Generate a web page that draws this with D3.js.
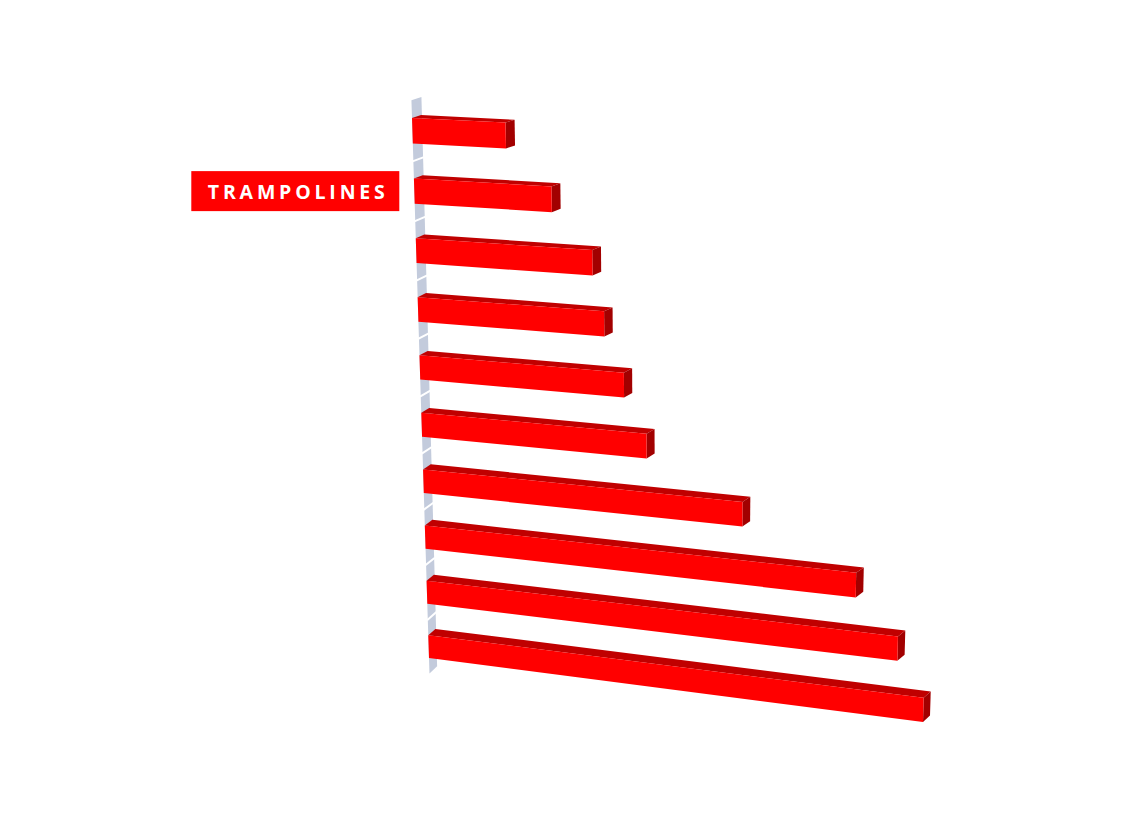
<!DOCTYPE html>
<html lang="en">
<head>
    <meta charset="UTF-8">
    <title>Trampolines</title>
</head>
<style>
    body { margin: 0; background: #ffffff; }
</style>
<script src="https://cdn.jsdelivr.net/npm/d3@7"></script>
<body>
    <div id="graphic"></div>
</body>

<script>
    // Data - one label shown, the rest of the category names are hidden in the original
    var categories = ["", "TRAMPOLINES", "", "", "", "", "", "", "", ""];
    var values = [18.9, 27.8, 35.7, 37.9, 41.7, 46.1, 64.9, 86.8, 94.9, 100];
    var highlighted = "TRAMPOLINES";

    var width = 1123;
    var height = 821;

    // scales in a flat "chart plane" (0..1), projected later
    var gapRatio = 0.58;
    var nBars = categories.length;
    var span = nBars - gapRatio;                 // first bar top -> last bar bottom in steps
    var outer = gapRatio / 2 / span;

    var xScale = d3.scaleLinear()
                    .domain([0, 100])
                    .range([0, 1]);

    var yScale = d3.scaleBand()
                    .domain(d3.range(nBars))
                    .range([-outer, 1 + outer])
                    .paddingInner(gapRatio)
                    .paddingOuter(gapRatio / 2);

    // square -> quad homography (Heckbert)
    function makeHomography(p00, p10, p11, p01) {
        var x0 = p00[0], y0 = p00[1], x1 = p10[0], y1 = p10[1];
        var x2 = p11[0], y2 = p11[1], x3 = p01[0], y3 = p01[1];
        var dx1 = x1 - x2, dx2 = x3 - x2, dx3 = x0 - x1 + x2 - x3;
        var dy1 = y1 - y2, dy2 = y3 - y2, dy3 = y0 - y1 + y2 - y3;
        var den = dx1 * dy2 - dx2 * dy1;
        var g = (dx3 * dy2 - dx2 * dy3) / den;
        var h = (dx1 * dy3 - dx3 * dy1) / den;
        var a = x1 - x0 + g * x1, b = x3 - x0 + h * x3, c = x0;
        var d = y1 - y0 + g * y1, e = y3 - y0 + h * y3, f = y0;
        return function(s, t) {
            var w = g * s + h * t + 1;
            return [(a * s + b * t + c) / w, (d * s + e * t + f) / w];
        };
    }

    // front plane (z = 0) and back plane (z = 1) of the 3D box
    var front = makeHomography([412, 118], [938, 144], [923, 722], [429, 658]);
    var back = makeHomography([421, 115], [947.5, 141.5], [930, 715.5], [436, 651.5]);

    function project(s, t, z) {
        var a = front(s, t), b = back(s, t);
        return [a[0] + (b[0] - a[0]) * z, a[1] + (b[1] - a[1]) * z];
    }

    function poly(pts) {
        return pts.map(function(p) { return project(p[0], p[1], p[2]).join(','); }).join(' ');
    }

    var svg = d3.select('#graphic')
                .append('svg')
                .attr('width', width)
                .attr('height', height);

    // axis wall strip
    var r = yScale.range();
    svg.append('polygon')
        .attr('points', poly([[0, r[0], 0], [0, r[0], 1.1], [0, r[1], 1.1], [0, r[1], 0]]))
        .attr('fill', '#c3cbdc');

    // white separators between categories on the strip
    svg.selectAll('.sep')
        .data(d3.range(1, nBars))
        .join('line')
        .attr('class', 'sep')
        .each(function(i) {
            var t = yScale(i) - yScale.step() * gapRatio / 2;
            var p0 = project(0, t, -0.1), p1 = project(0, t, 1.2);
            d3.select(this)
                .attr('x1', p0[0]).attr('y1', p0[1])
                .attr('x2', p1[0]).attr('y2', p1[1]);
        })
        .attr('stroke', '#ffffff')
        .attr('stroke-width', 2);

    // bars
    var bars = svg.selectAll('.bar')
                    .data(values)
                    .join('g')
                    .attr('class', 'bar');

    bars.each(function(v, i) {
        var g = d3.select(this);
        var s1 = xScale(v);
        var t0 = yScale(i);
        var t1 = t0 + yScale.bandwidth();

        // top face
        g.append('polygon')
            .attr('points', poly([[0, t0, 0], [s1, t0, 0], [s1, t0, 1], [0, t0, 1]]))
            .attr('fill', '#c00000');
        // end face
        g.append('polygon')
            .attr('points', poly([[s1, t0, 0], [s1, t0, 1], [s1, t1, 1], [s1, t1, 0]]))
            .attr('fill', '#a20000');
        // front face
        g.append('polygon')
            .attr('points', poly([[0, t0, 0], [s1, t0, 0], [s1, t1, 0], [0, t1, 0]]))
            .attr('fill', '#ff0000');
    });

    // highlighted category label
    var idx = categories.indexOf(highlighted);
    var mid = project(0, yScale(idx) + yScale.bandwidth() / 2, 0);
    var boxW = 208, boxH = 40;
    var label = svg.append('g')
                    .attr('transform', 'translate(' + (mid[0] - 15 - boxW) + ',' + (mid[1] - boxH / 2) + ')');
    label.append('rect')
        .attr('width', boxW)
        .attr('height', boxH)
        .attr('fill', '#ff0000');
    label.append('text')
        .attr('x', boxW / 2 + 1)
        .attr('y', 28)
        .attr('text-anchor', 'middle')
        .attr('fill', '#ffffff')
        .attr('font-family', '"Open Sans", sans-serif')
        .attr('font-weight', 700)
        .attr('font-size', 19.5)
        .attr('textLength', 177)
        .attr('lengthAdjust', 'spacing')
        .text(highlighted);
</script>
</html>
